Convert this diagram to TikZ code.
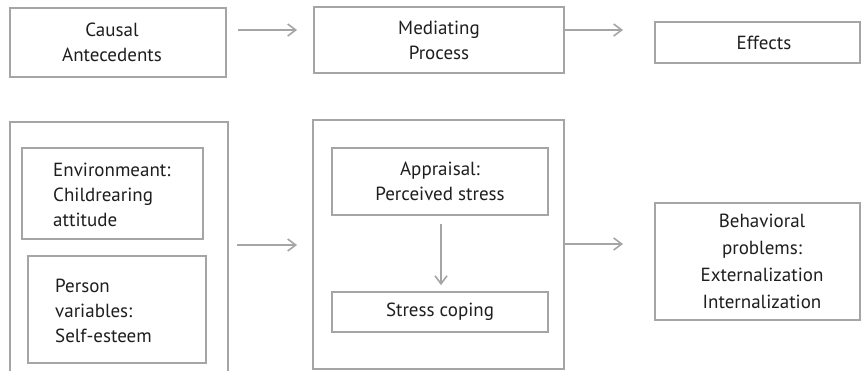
\documentclass[tikz,border=0pt]{standalone}
\usepackage{fontspec}
\setmainfont{PT Sans}
\usetikzlibrary{arrows.meta}
\definecolor{boxline}{RGB}{165,165,165}
\definecolor{txt}{RGB}{30,30,30}
\tikzset{
  box/.style={draw=boxline, line width=1.7pt, rectangle, inner sep=0pt, text=txt,
    font=\fontsize{19}{25}\selectfont, align=center},
  outer/.style={draw=boxline, line width=1.7pt, rectangle, inner sep=0pt},
  conn/.style={draw=boxline, line width=1.6pt, -{Straight Barb[length=8pt,width=12pt,line width=1.6pt]}},
  lbl/.style={text=txt, font=\fontsize{19}{25}\selectfont, inner sep=0pt}
}
\begin{document}
\begin{tikzpicture}[x=1pt,y=-1pt]
\clip (0,0) rectangle (861,371);
\fill[white] (0,0) rectangle (861,371);
% top row
\node[box, minimum width=216pt, minimum height=69pt] (cause) at (118,42.5) {};
\node[lbl, align=center] (causet) at (112,42.5) {Causal\\Antecedents};
\node[box, minimum width=250pt, minimum height=66pt] (med) at (439,40) {Mediating\\Process};
\node[box, minimum width=205pt, minimum height=41pt] (eff) at (757.5,42.5) {};
\node[lbl] (efft) at (764,42.5) {Effects};
\coordinate (a1s) at (238,30);
\coordinate (a1e) at (297,30);
\coordinate (a2e) at (623,30);
\draw[conn] (a1s) -- (a1e);
\draw[conn] (med.east |- a2e) -- (a2e);
% bottom left
\node[outer, minimum width=218pt, minimum height=270pt] (leftbox) at (119,257) {};
\node[box, minimum width=181pt, minimum height=91pt] (env) at (112.5,193.5) {};
\node[lbl, align=left, anchor=west] (envt) at (53,195) {Environmeant:\\Childrearing\\attitude};
\node[box, minimum width=178pt, minimum height=107pt] (person) at (117,309.5) {};
\node[lbl, align=left, anchor=west] (persont) at (55,311) {Person\\variables:\\Self-esteem};
% middle
\node[outer, minimum width=251pt, minimum height=249pt] (midbox) at (438.5,244.5) {};
\node[box, minimum width=216pt, minimum height=67pt] (appr) at (440,181.5) {Appraisal:\\Perceived stress};
\node[box, minimum width=216pt, minimum height=40pt] (cope) at (440,312) {Stress coping};
\coordinate (a3s) at (237,245);
\coordinate (a3e) at (297,245);
\coordinate (a4e) at (623,244);
\draw[conn] (a3s) -- (a3e);
\draw[conn] ([yshift=-8pt]appr.south -| 441,0) -- ([yshift=6pt]cope.north -| 441,0);
\draw[conn] (midbox.east |- a4e) -- (a4e);
% right
\node[box, minimum width=205pt, minimum height=117pt] (beh) at (757.5,261.5) {};
\node[lbl, align=center, font=\fontsize{19}{27}\selectfont] (beht) at (762,261.5) {Behavioral\\problems:\\Externalization\\Internalization};
\end{tikzpicture}
\end{document}
